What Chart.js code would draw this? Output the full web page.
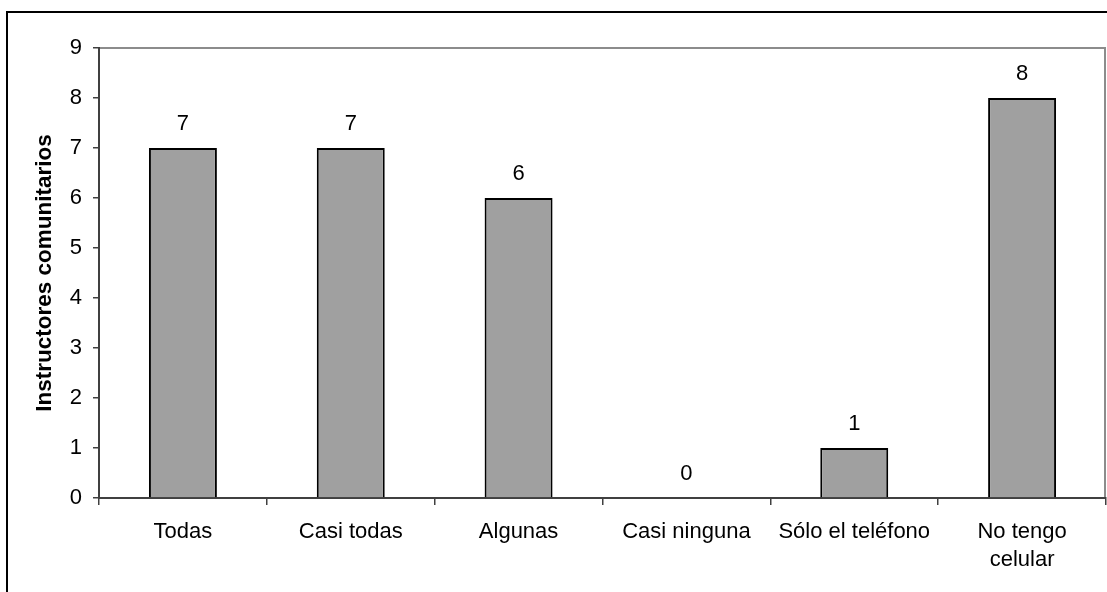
<!DOCTYPE html>
<html>
<head>
<meta charset="utf-8">
<script src="https://cdn.jsdelivr.net/npm/chart.js@4"></script>
<style>
  html, body { margin: 0; padding: 0; background: #ffffff; }
  #wrap { width: 1107px; height: 592px; position: relative; }
</style>
</head>
<body>
<div id="wrap"><canvas id="c" width="1107" height="592"></canvas></div>
<script>
// Respuestas por categoría
const categories = ["Todas", "Casi todas", "Algunas", "Casi ninguna", "Sólo el teléfono", ["No tengo", "celular"]];
const values = [7, 7, 6, 0, 1, 8];
const yTicks = [0, 1, 2, 3, 4, 5, 6, 7, 8, 9];
const yTitle = "Instructores comunitarios";

const FONT = "'Liberation Sans', Arial, sans-serif";

// Marco exterior y borde gris del área de trazado
const framePlugin = {
  id: "frame",
  beforeDraw(chart) {
    const ctx = chart.ctx;
    ctx.save();
    ctx.fillStyle = "#ffffff";
    ctx.fillRect(0, 0, chart.width, chart.height);
    ctx.strokeStyle = "#000000";
    ctx.lineWidth = 2;
    ctx.strokeRect(7, 12, 1300, 800);
    const a = chart.chartArea;
    ctx.strokeStyle = "#8c8c8c";
    ctx.lineWidth = 2;
    ctx.beginPath();
    ctx.moveTo(a.left, a.top);
    ctx.lineTo(a.right - 1, a.top);
    ctx.lineTo(a.right - 1, a.bottom);
    ctx.stroke();
    ctx.restore();
  }
};

// Etiquetas de valor sobre cada barra
const valueLabels = {
  id: "valueLabels",
  afterDatasetsDraw(chart) {
    const ctx = chart.ctx;
    const meta = chart.getDatasetMeta(0);
    ctx.save();
    ctx.font = "22px " + FONT;
    ctx.fillStyle = "#000000";
    ctx.textAlign = "center";
    ctx.textBaseline = "middle";
    meta.data.forEach((bar, i) => {
      ctx.fillText(String(values[i]), bar.x, bar.y - 24);
    });
    ctx.restore();
  }
};

new Chart(document.getElementById("c"), {
  type: "bar",
  data: {
    labels: categories,
    datasets: [{
      data: values,
      backgroundColor: "#a0a0a0",
      borderColor: "#000000",
      borderWidth: (c) => (c.raw === 0 ? 0 : 2),
      borderSkipped: "bottom",
      barPercentage: 0.405,
      categoryPercentage: 1.0
    }]
  },
  options: {
    responsive: false,
    animation: false,
    devicePixelRatio: 1,
    layout: { padding: { left: 0, right: 1, top: 48, bottom: 0 } },
    plugins: {
      legend: { display: false },
      tooltip: { enabled: false }
    },
    scales: {
      x: {
        offset: true,
        grid: {
          offset: true,
          drawOnChartArea: false,
          drawTicks: true,
          tickLength: 7,
          color: "#404040",
          lineWidth: 1.5
        },
        border: { display: true, color: "#404040", width: 2 },
        ticks: {
          color: "#000000",
          padding: 13,
          maxRotation: 0,
          autoSkip: false,
          font: { family: FONT, size: 22, lineHeight: 1.28 }
        },
        afterFit(scale) { scale.height = 94; }
      },
      y: {
        min: 0,
        max: 9,
        afterBuildTicks(scale) { scale.ticks = yTicks.map(v => ({ value: v })); },
        grid: {
          drawOnChartArea: false,
          drawTicks: true,
          tickLength: 6,
          color: "#404040",
          lineWidth: 1.5
        },
        border: { display: true, color: "#404040", width: 2 },
        ticks: {
          color: "#000000",
          padding: 11,
          font: { family: FONT, size: 22 }
        },
        title: {
          display: true,
          text: yTitle,
          color: "#000000",
          font: { family: FONT, size: 22.5, weight: "bold" },
          padding: { top: 31, bottom: 0 }
        },
        afterFit(scale) { scale.width = 99; }
      }
    }
  },
  plugins: [framePlugin, valueLabels]
});
</script>
</body>
</html>
